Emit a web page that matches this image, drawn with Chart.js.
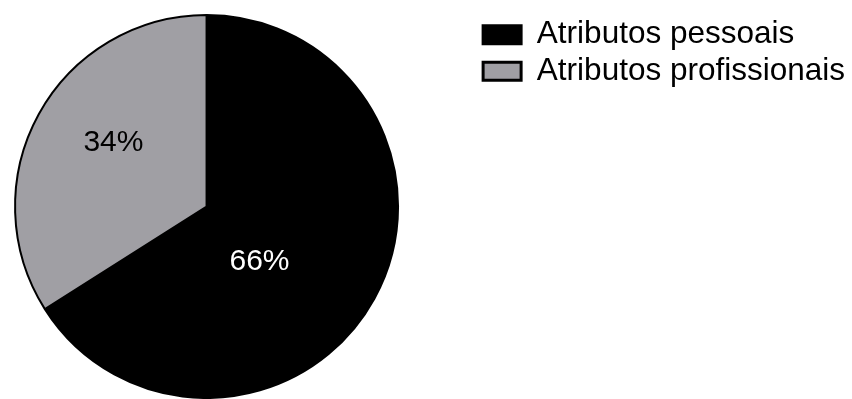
<!DOCTYPE html>
<html>
<head>
<meta charset="utf-8">
<script src="https://cdn.jsdelivr.net/npm/chart.js@4/dist/chart.umd.min.js"></script>
<style>
  html, body { margin: 0; padding: 0; background: #fff; overflow: hidden; }
  body { width: 852px; height: 399px; position: relative; }
  #wrap { position: absolute; left: -65px; top: 0; width: 920px; height: 399px; }
</style>
</head>
<body>
<div id="wrap"><canvas id="grafico"></canvas></div>
<script>
var categorias = ['Atributos pessoais', 'Atributos profissionais'];
var percentuais = [66, 34];
var cores = ['#000000', '#a09fa4'];
var corRotulo = ['#ffffff', '#000000'];

// onde fica cada rotulo: fracao do raio e desvio do angulo medio (graus)
var posRotulo = [{ raio: 0.40, desvio: 17.5 }, { raio: 0.59, desvio: 5.7 }];

var rotulosPercentuais = {
  id: 'rotulosPercentuais',
  afterDatasetsDraw(chart) {
    var ctx = chart.ctx;
    var dados = chart.data.datasets[0].data;
    var total = dados.reduce((a, b) => a + b, 0);
    chart.getDatasetMeta(0).data.forEach(function (arco, i) {
      var p = arco.getProps(['x', 'y', 'startAngle', 'endAngle', 'outerRadius'], true);
      var ang = (p.startAngle + p.endAngle) / 2 + posRotulo[i].desvio * Math.PI / 180;
      var r = p.outerRadius * posRotulo[i].raio;
      ctx.save();
      ctx.font = '30px "Liberation Sans", Arial, sans-serif';
      ctx.fillStyle = corRotulo[i];
      ctx.textAlign = 'center';
      ctx.textBaseline = 'middle';
      ctx.fillText(Math.round(dados[i] / total * 100) + '%', p.x + Math.cos(ang) * r, p.y + Math.sin(ang) * r);
      ctx.restore();
    });
  }
};

new Chart(document.getElementById('grafico'), {
  type: 'pie',
  plugins: [rotulosPercentuais],
  data: {
    labels: categorias,
    datasets: [{
      data: percentuais,
      backgroundColor: cores,
      borderColor: '#000000',
      borderWidth: 2
    }]
  },
  options: {
    responsive: true,
    maintainAspectRatio: false,
    animation: false,
    layout: { padding: { top: 14, left: 0, right: 0, bottom: 0 } },
    plugins: {
      tooltip: { enabled: false },
      legend: {
        position: 'right',
        align: 'start',
        labels: {
          color: '#000000',
          boxWidth: 38,
          boxHeight: 18,
          padding: 5,
          font: { family: '"Liberation Sans", Arial, sans-serif', size: 31.5 },
          generateLabels(chart) {
            var itens = Chart.overrides.pie.plugins.legend.labels.generateLabels(chart);
            return itens.map(function (it) {
              it.lineWidth = 3;
              it.strokeStyle = '#000000';
              return it;
            });
          }
        }
      }
    }
  }
});
</script>
</body>
</html>
